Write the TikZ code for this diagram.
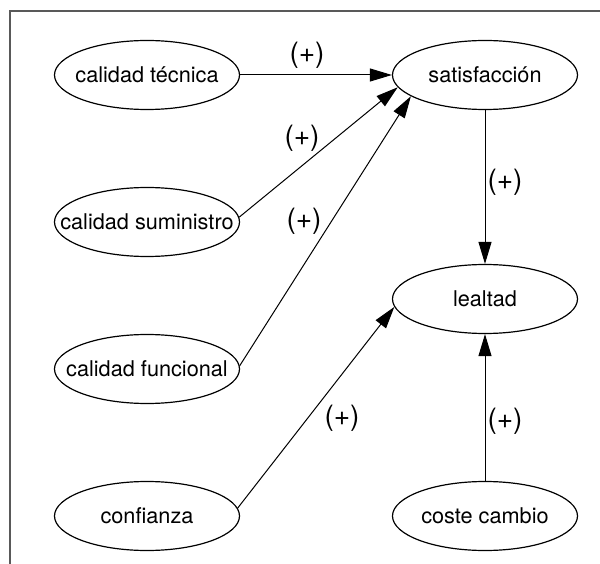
\documentclass[tikz,border=0pt]{standalone}
\usepackage{fontspec}
\setmainfont{TeX Gyre Heros}
\usetikzlibrary{shapes.geometric,arrows.meta}
\newcommand{\boxfont}{\fontsize{21.7}{26}\selectfont}
\newcommand{\signfont}{\fontsize{28}{32}\selectfont}
\begin{document}
\begin{tikzpicture}[x=1pt,y=-1pt,
  construct/.style={draw=black, line width=1.2pt, ellipse, inner sep=0pt,
    minimum width=185pt, minimum height=69pt, font=\boxfont},
  link/.style={draw=black, line width=1pt,
    -{Triangle[length=22pt,width=13pt]}},
  polarity/.style={inner sep=0pt, font=\signfont}]
  \useasboundingbox (0,0) rectangle (600,564);
  % open frame (top and left edges)
  \draw[line width=1.5pt, color=black!65] (10,564) -- (10,11) -- (600,11);

  % constructs
  \node[construct] (tec)  at (147,75)  {\makebox[0pt]{calidad técnica}};
  \node[construct] (sum)  at (147,222) {\makebox[0pt]{calidad suministro}};
  \node[construct] (fun)  at (147,369) {\makebox[0pt]{calidad funcional}};
  \node[construct] (con)  at (147,516) {\makebox[0pt]{confianza}};
  \node[construct] (sat)  at (485,75)  {\makebox[0pt]{satisfacción}};
  \node[construct] (leal) at (485,299) {\makebox[0pt]{lealtad}};
  \node[construct] (cos)  at (485,516) {\makebox[0pt]{coste cambio}};

  % relations
  \draw[link] (tec.east) -- (sat.west);
  \draw[link] (sum.3) -- (sat.188);
  \draw[link] (fun.2.5) -- (sat.196);
  \draw[link] (con.5) -- (leal.185);
  \draw[link] (sat.south) -- (leal.north);
  \draw[link] (cos.north) -- (leal.south);

  % signs
  \node[polarity] (s1) at (307,55)  {(+)};
  \node[polarity] (s2) at (302,138) {(+)};
  \node[polarity] (s3) at (304,221) {(+)};
  \node[polarity] (s4) at (342,418) {(+)};
  \node[polarity] (s5) at (505,182) {(+)};
  \node[polarity] (s6) at (505,421) {(+)};
\end{tikzpicture}
\end{document}
